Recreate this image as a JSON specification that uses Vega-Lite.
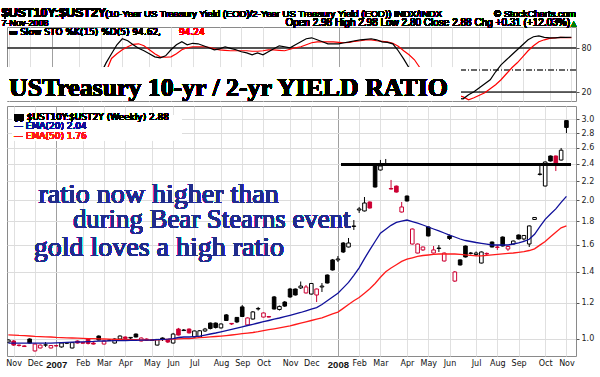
{
"$schema": "https://vega.github.io/schema/vega-lite/v6.json",
"background": "white",
"padding": {"left": 1, "top": 6, "right": 0, "bottom": 0},
"spacing": 5,
"bounds": "flush",
"config": {"view": {"stroke": "#8a8a8a", "strokeWidth": 1}, "font": "DejaVu Sans"},
"datasets": {"w": [
{"date":"2006-11-03","o":0.985,"h":0.998,"l":0.982,"c":0.995,"e20":0.98,"e50":1.021,"k":30,"d":32},
{"date":"2006-11-10","o":0.99,"h":0.995,"l":0.966,"c":0.97,"e20":0.98,"e50":1.02,"k":25,"d":30},
{"date":"2006-11-17","o":0.97,"h":0.973,"l":0.963,"c":0.968,"e20":0.98,"e50":1.018,"k":20,"d":25},
{"date":"2006-11-24","o":0.966,"h":0.968,"l":0.961,"c":0.963,"e20":0.98,"e50":1.017,"k":18,"d":22},
{"date":"2006-12-01","o":1.0,"h":1.003,"l":0.978,"c":0.98,"e20":0.98,"e50":1.015,"k":30,"d":23},
{"date":"2006-12-08","o":0.942,"h":0.978,"l":0.939,"c":0.975,"e20":0.98,"e50":1.013,"k":22,"d":25},
{"date":"2006-12-15","o":0.956,"h":0.973,"l":0.954,"c":0.97,"e20":0.98,"e50":1.012,"k":25,"d":26},
{"date":"2006-12-22","o":0.97,"h":0.985,"l":0.961,"c":0.971,"e20":0.98,"e50":1.011,"k":35,"d":28},
{"date":"2006-12-29","o":0.956,"h":0.97,"l":0.954,"c":0.968,"e20":0.98,"e50":1.01,"k":30,"d":30},
{"date":"2007-01-05","o":0.9675,"h":0.97,"l":0.963,"c":0.966,"e20":0.981,"e50":1.008,"k":28,"d":31},
{"date":"2007-01-12","o":0.961,"h":0.983,"l":0.958,"c":0.98,"e20":0.982,"e50":1.007,"k":40,"d":33},
{"date":"2007-01-19","o":0.979,"h":0.985,"l":0.975,"c":0.981,"e20":0.983,"e50":1.006,"k":42,"d":37},
{"date":"2007-01-26","o":0.956,"h":0.985,"l":0.954,"c":0.982,"e20":0.984,"e50":1.005,"k":45,"d":40},
{"date":"2007-02-02","o":0.99,"h":0.993,"l":0.978,"c":0.98,"e20":0.985,"e50":1.004,"k":38,"d":41},
{"date":"2007-02-09","o":0.983,"h":0.985,"l":0.978,"c":0.979,"e20":0.986,"e50":1.003,"k":35,"d":39},
{"date":"2007-02-16","o":1.0,"h":1.005,"l":0.973,"c":0.978,"e20":0.987,"e50":1.002,"k":30,"d":36},
{"date":"2007-02-23","o":0.98,"h":0.985,"l":0.973,"c":0.975,"e20":0.988,"e50":1.0015,"k":28,"d":33},
{"date":"2007-03-02","o":1.015,"h":1.018,"l":0.993,"c":0.995,"e20":0.9896,"e50":1.0005,"k":40,"d":35},
{"date":"2007-03-09","o":0.975,"h":0.993,"l":0.973,"c":0.99,"e20":0.99,"e50":1.0,"k":45,"d":40},
{"date":"2007-03-16","o":0.994,"h":0.998,"l":0.99,"c":0.995,"e20":0.9905,"e50":0.9995,"k":60,"d":48},
{"date":"2007-03-23","o":0.98,"h":1.003,"l":0.978,"c":1.0,"e20":0.9915,"e50":0.9985,"k":72.3,"d":66},
{"date":"2007-03-30","o":1.0,"h":1.018,"l":0.998,"c":1.015,"e20":0.992,"e50":0.998,"k":84.5,"d":72.3},
{"date":"2007-04-06","o":1.01,"h":1.013,"l":1.0,"c":1.003,"e20":0.9925,"e50":0.9975,"k":92.6,"d":77.7},
{"date":"2007-04-13","o":1.005,"h":1.01,"l":1.0,"c":1.008,"e20":0.993,"e50":0.997,"k":89.9,"d":81.8},
{"date":"2007-04-20","o":1.025,"h":1.028,"l":1.008,"c":1.01,"e20":0.9935,"e50":0.9965,"k":84.5,"d":85.1},
{"date":"2007-04-27","o":0.99,"h":1.008,"l":0.988,"c":1.005,"e20":0.994,"e50":0.996,"k":79.7,"d":85.8},
{"date":"2007-05-04","o":1.0,"h":1.003,"l":0.99,"c":0.993,"e20":0.9945,"e50":0.9955,"k":76.4,"d":83.1},
{"date":"2007-05-11","o":0.9925,"h":0.998,"l":0.99,"c":0.995,"e20":0.995,"e50":0.995,"k":72.3,"d":77.7},
{"date":"2007-05-18","o":0.97,"h":1.0,"l":0.968,"c":0.998,"e20":0.9965,"e50":0.996,"k":68.2,"d":72.3},
{"date":"2007-05-25","o":1.005,"h":1.008,"l":0.99,"c":1.0,"e20":0.998,"e50":0.997,"k":66.9,"d":68.2},
{"date":"2007-06-01","o":0.998,"h":1.0,"l":0.98,"c":0.985,"e20":0.999,"e50":0.9985,"k":69.6,"d":67.6},
{"date":"2007-06-08","o":0.98,"h":1.031,"l":0.978,"c":1.025,"e20":1.002,"e50":0.9995,"k":77.7,"d":68.2},
{"date":"2007-06-15","o":1.051,"h":1.057,"l":1.018,"c":1.02,"e20":1.0075,"e50":1.0005,"k":84.5,"d":72.3},
{"date":"2007-06-22","o":1.046,"h":1.051,"l":1.041,"c":1.043,"e20":1.01,"e50":1.0015,"k":88.5,"d":77.7},
{"date":"2007-06-29","o":1.051,"h":1.054,"l":1.028,"c":1.031,"e20":1.01,"e50":1.002,"k":84.5,"d":80.4},
{"date":"2007-07-06","o":1.01,"h":1.043,"l":1.008,"c":1.041,"e20":1.012,"e50":1.004,"k":86.5,"d":81.8},
{"date":"2007-07-13","o":1.01,"h":1.046,"l":1.008,"c":1.042,"e20":1.0146,"e50":1.007,"k":85.8,"d":81.8},
{"date":"2007-07-20","o":1.041,"h":1.057,"l":1.036,"c":1.051,"e20":1.0197,"e50":1.0085,"k":83.1,"d":81.8},
{"date":"2007-07-27","o":1.083,"h":1.086,"l":1.049,"c":1.054,"e20":1.0253,"e50":1.0106,"k":80.4,"d":81.1},
{"date":"2007-08-03","o":1.083,"h":1.086,"l":1.054,"c":1.059,"e20":1.0305,"e50":1.0126,"k":77.7,"d":79},
{"date":"2007-08-10","o":1.057,"h":1.081,"l":1.054,"c":1.078,"e20":1.0367,"e50":1.0146,"k":79,"d":77.7},
{"date":"2007-08-17","o":1.128,"h":1.133,"l":1.094,"c":1.097,"e20":1.0429,"e50":1.0171,"k":81.8,"d":77},
{"date":"2007-08-24","o":1.081,"h":1.083,"l":1.0725,"c":1.078,"e20":1.0497,"e50":1.0202,"k":79.7,"d":76.4},
{"date":"2007-08-31","o":1.114,"h":1.116,"l":1.083,"c":1.089,"e20":1.056,"e50":1.0238,"k":77.7,"d":76.4},
{"date":"2007-09-07","o":1.174,"h":1.185,"l":1.116,"c":1.119,"e20":1.0629,"e50":1.0269,"k":75,"d":76.4},
{"date":"2007-09-14","o":1.073,"h":1.114,"l":1.07,"c":1.111,"e20":1.0698,"e50":1.0299,"k":73.6,"d":76.4},
{"date":"2007-09-21","o":1.105,"h":1.15,"l":1.102,"c":1.145,"e20":1.0763,"e50":1.033,"k":70.9,"d":75.7},
{"date":"2007-09-28","o":1.162,"h":1.174,"l":1.153,"c":1.165,"e20":1.0833,"e50":1.0372,"k":73.6,"d":75.7},
{"date":"2007-10-05","o":1.116,"h":1.142,"l":1.114,"c":1.139,"e20":1.0904,"e50":1.0424,"k":70.9,"d":76.4},
{"date":"2007-10-12","o":1.119,"h":1.122,"l":1.114,"c":1.116,"e20":1.0969,"e50":1.0476,"k":75,"d":77.7},
{"date":"2007-10-19","o":1.234,"h":1.24,"l":1.159,"c":1.162,"e20":1.1041,"e50":1.0523,"k":79,"d":77.7},
{"date":"2007-10-26","o":1.159,"h":1.182,"l":1.153,"c":1.177,"e20":1.1107,"e50":1.0576,"k":83.1,"d":77},
{"date":"2007-11-02","o":1.203,"h":1.209,"l":1.174,"c":1.179,"e20":1.1186,"e50":1.0629,"k":81.8,"d":76.4},
{"date":"2007-11-09","o":1.284,"h":1.291,"l":1.228,"c":1.234,"e20":1.1259,"e50":1.0682,"k":80.4,"d":78.4},
{"date":"2007-11-16","o":1.284,"h":1.287,"l":1.243,"c":1.246,"e20":1.1337,"e50":1.0752,"k":84.5,"d":80.4},
{"date":"2007-11-23","o":1.291,"h":1.333,"l":1.284,"c":1.303,"e20":1.1417,"e50":1.0822,"k":88.5,"d":81.8},
{"date":"2007-11-30","o":1.259,"h":1.31,"l":1.255,"c":1.297,"e20":1.1515,"e50":1.0898,"k":92.6,"d":84.5},
{"date":"2007-12-07","o":1.252,"h":1.323,"l":1.249,"c":1.32,"e20":1.1608,"e50":1.0969,"k":93.9,"d":87.2},
{"date":"2007-12-14","o":1.246,"h":1.287,"l":1.203,"c":1.284,"e20":1.1701,"e50":1.1041,"k":91.2,"d":88.5},
{"date":"2007-12-21","o":1.297,"h":1.323,"l":1.265,"c":1.303,"e20":1.1879,"e50":1.1113,"k":88.5,"d":88.5},
{"date":"2007-12-28","o":1.377,"h":1.381,"l":1.32,"c":1.323,"e20":1.2107,"e50":1.1225,"k":85.8,"d":88.5},
{"date":"2008-01-04","o":1.485,"h":1.492,"l":1.408,"c":1.412,"e20":1.2337,"e50":1.1337,"k":85.8,"d":88.5},
{"date":"2008-01-11","o":1.485,"h":1.514,"l":1.47,"c":1.492,"e20":1.2572,"e50":1.144,"k":85.8,"d":87.8},
{"date":"2008-01-18","o":1.616,"h":1.624,"l":1.537,"c":1.545,"e20":1.2912,"e50":1.1654,"k":87.2,"d":87.2},
{"date":"2008-01-25","o":1.584,"h":1.657,"l":1.581,"c":1.616,"e20":1.327,"e50":1.1879,"k":88.5,"d":87.8},
{"date":"2008-02-01","o":1.755,"h":1.813,"l":1.725,"c":1.76,"e20":1.3748,"e50":1.2107,"k":89.9,"d":89.2},
{"date":"2008-02-08","o":1.906,"h":1.935,"l":1.878,"c":1.916,"e20":1.4271,"e50":1.2306,"k":91.2,"d":89.9},
{"date":"2008-02-15","o":1.897,"h":2.034,"l":1.892,"c":1.974,"e20":1.4949,"e50":1.2572,"k":91.9,"d":91.2},
{"date":"2008-02-22","o":1.984,"h":1.989,"l":1.92,"c":1.925,"e20":1.5619,"e50":1.2853,"k":92.6,"d":91.2},
{"date":"2008-02-29","o":2.387,"h":2.399,"l":2.133,"c":2.138,"e20":1.6283,"e50":1.3202,"k":91.2,"d":89.9},
{"date":"2008-03-07","o":2.328,"h":2.448,"l":2.322,"c":2.375,"e20":1.6978,"e50":1.3619,"k":88.5,"d":89.2},
{"date":"2008-03-14","o":2.387,"h":2.46,"l":2.375,"c":2.393,"e20":1.732,"e50":1.3997,"k":87.8,"d":88.5},
{"date":"2008-03-21","o":2.122,"h":2.215,"l":2.112,"c":2.117,"e20":1.7653,"e50":1.4266,"k":85.8,"d":86.5},
{"date":"2008-03-28","o":2.148,"h":2.154,"l":2.08,"c":2.085,"e20":1.7914,"e50":1.4497,"k":76.4,"d":82.4},
{"date":"2008-04-04","o":1.887,"h":1.984,"l":1.882,"c":1.935,"e20":1.8031,"e50":1.4738,"k":65.5,"d":76.4},
{"date":"2008-04-11","o":2.044,"h":2.049,"l":1.989,"c":1.994,"e20":1.813,"e50":1.4904,"k":53.4,"d":70.9},
{"date":"2008-04-18","o":1.608,"h":1.738,"l":1.604,"c":1.733,"e20":1.7986,"e50":1.5008,"k":45,"d":64.2},
{"date":"2008-04-25","o":1.537,"h":1.612,"l":1.534,"c":1.608,"e20":1.7843,"e50":1.5114,"k":30,"d":53.4},
{"date":"2008-05-02","o":1.561,"h":1.588,"l":1.553,"c":1.584,"e20":1.7683,"e50":1.5182,"k":22,"d":42},
{"date":"2008-05-09","o":1.751,"h":1.755,"l":1.67,"c":1.674,"e20":1.7507,"e50":1.522,"k":25,"d":33},
{"date":"2008-05-16","o":1.537,"h":1.592,"l":1.534,"c":1.561,"e20":1.7333,"e50":1.5266,"k":20,"d":25},
{"date":"2008-05-23","o":1.572,"h":1.6,"l":1.545,"c":1.576,"e20":1.717,"e50":1.5296,"k":18,"d":22},
{"date":"2008-05-30","o":1.477,"h":1.541,"l":1.473,"c":1.537,"e20":1.6989,"e50":1.5296,"k":15,"d":20},
{"date":"2008-06-06","o":1.674,"h":1.686,"l":1.641,"c":1.653,"e20":1.6812,"e50":1.5296,"k":22,"d":18},
{"date":"2008-06-13","o":1.336,"h":1.405,"l":1.33,"c":1.398,"e20":1.6653,"e50":1.5296,"k":12,"d":16},
{"date":"2008-06-20","o":1.485,"h":1.488,"l":1.444,"c":1.448,"e20":1.6487,"e50":1.5274,"k":11.5,"d":14},
{"date":"2008-06-27","o":1.592,"h":1.596,"l":1.503,"c":1.507,"e20":1.6364,"e50":1.5228,"k":17,"d":10.1},
{"date":"2008-07-04","o":1.534,"h":1.545,"l":1.526,"c":1.537,"e20":1.6283,"e50":1.5197,"k":21,"d":12.8},
{"date":"2008-07-11","o":1.526,"h":1.549,"l":1.514,"c":1.537,"e20":1.6202,"e50":1.5159,"k":26.4,"d":16.2},
{"date":"2008-07-18","o":1.462,"h":1.549,"l":1.459,"c":1.545,"e20":1.6137,"e50":1.5159,"k":31.8,"d":19.6},
{"date":"2008-07-25","o":1.534,"h":1.541,"l":1.514,"c":1.53,"e20":1.6065,"e50":1.5197,"k":37.2,"d":25},
{"date":"2008-08-01","o":1.624,"h":1.628,"l":1.581,"c":1.584,"e20":1.6,"e50":1.5235,"k":48,"d":30.4},
{"date":"2008-08-08","o":1.584,"h":1.6,"l":1.561,"c":1.581,"e20":1.6,"e50":1.5274,"k":57.4,"d":37.2},
{"date":"2008-08-15","o":1.665,"h":1.67,"l":1.588,"c":1.592,"e20":1.6,"e50":1.5304,"k":64.2,"d":45.3},
{"date":"2008-08-22","o":1.568,"h":1.592,"l":1.553,"c":1.588,"e20":1.6,"e50":1.5342,"k":71,"d":53.4},
{"date":"2008-08-29","o":1.608,"h":1.636,"l":1.604,"c":1.632,"e20":1.608,"e50":1.5373,"k":77.7,"d":60.1},
{"date":"2008-09-05","o":1.682,"h":1.686,"l":1.645,"c":1.649,"e20":1.6177,"e50":1.5419,"k":84.5,"d":68.2},
{"date":"2008-09-12","o":1.649,"h":1.682,"l":1.636,"c":1.678,"e20":1.6291,"e50":1.5473,"k":91.2,"d":76.4},
{"date":"2008-09-19","o":1.608,"h":1.764,"l":1.584,"c":1.76,"e20":1.6463,"e50":1.5566,"k":95.3,"d":83.1},
{"date":"2008-09-26","o":1.818,"h":1.84,"l":1.813,"c":1.836,"e20":1.688,"e50":1.5692,"k":96.6,"d":88.5},
{"date":"2008-10-03","o":2.276,"h":2.411,"l":2.265,"c":2.282,"e20":1.7542,"e50":1.5989,"k":94.6,"d":91.2},
{"date":"2008-10-10","o":2.149,"h":2.429,"l":2.144,"c":2.423,"e20":1.8184,"e50":1.6283,"k":93.9,"d":93.2},
{"date":"2008-10-17","o":2.497,"h":2.503,"l":2.429,"c":2.435,"e20":1.8689,"e50":1.6681,"k":93.9,"d":93.9},
{"date":"2008-10-24","o":2.497,"h":2.503,"l":2.316,"c":2.387,"e20":1.9163,"e50":1.7063,"k":94.6,"d":94.6},
{"date":"2008-10-31","o":2.447,"h":2.599,"l":2.441,"c":2.57,"e20":1.9802,"e50":1.7431,"k":94.6,"d":94.2},
{"date":"2008-11-07","o":2.98,"h":2.98,"l":2.8,"c":2.88,"e20":2.04,"e50":1.76,"k":94.62,"d":94.24}
]},
"vconcat": [
{
"width": 569, "height": 74,
"data": {"name": "w"},
"layer": [
{"mark": {"type": "rule", "color": "#555555", "strokeWidth": 1},
 "encoding": {"y": {"datum": 80, "type": "quantitative", "scale": {"domain": [8.5, 108.5], "nice": false, "zero": false},
   "axis": {"orient": "right", "values": [20, 50, 80], "grid": false, "domain": false, "tickSize": 3, "tickColor": "#555", "labelFont": "DejaVu Sans", "labelFontSize": 8, "labelColor": "#222", "labelPadding": 2, "title": null}}}},
{"mark": {"type": "rule", "color": "#555555", "strokeWidth": 1}, "encoding": {"y": {"datum": 20, "type": "quantitative"}}},
{"mark": {"type": "rule", "color": "#666666", "strokeWidth": 1, "strokeDash": [6, 2, 1, 2]}, "encoding": {"y": {"datum": 50, "type": "quantitative"}}},
{"mark": {"type": "line", "color": "#ff0000", "strokeWidth": 1.2, "clip": true},
 "encoding": {
  "x": {"field": "date", "type": "temporal",
    "scale": {"type": "utc", "domain": [{"year": 2006, "month": 11, "date": 7, "hours": 19, "utc": true}, {"year": 2008, "month": 11, "date": 13, "utc": true}]},
    "axis": {"orient": "bottom", "labels": false, "ticks": false, "domain": false, "grid": true, "title": null, "tickCount": 40,
      "gridColor": {"condition": {"test": "utcmonth(datum.value) == 0", "value": "#a0a0a0"}, "value": "#e0e0e0"},
      "values": [
       {"year":2006,"month":11,"date":10,"utc":true},{"year":2006,"month":12,"date":8,"utc":true},
       {"year":2007,"month":1,"date":5,"utc":true},{"year":2007,"month":2,"date":9,"utc":true},{"year":2007,"month":3,"date":9,"utc":true},{"year":2007,"month":4,"date":6,"utc":true},{"year":2007,"month":5,"date":11,"utc":true},{"year":2007,"month":6,"date":8,"utc":true},{"year":2007,"month":7,"date":6,"utc":true},{"year":2007,"month":8,"date":10,"utc":true},{"year":2007,"month":9,"date":7,"utc":true},{"year":2007,"month":10,"date":5,"utc":true},{"year":2007,"month":11,"date":9,"utc":true},{"year":2007,"month":12,"date":7,"utc":true},
       {"year":2008,"month":1,"date":11,"utc":true},{"year":2008,"month":2,"date":8,"utc":true},{"year":2008,"month":3,"date":7,"utc":true},{"year":2008,"month":4,"date":11,"utc":true},{"year":2008,"month":5,"date":9,"utc":true},{"year":2008,"month":6,"date":6,"utc":true},{"year":2008,"month":7,"date":11,"utc":true},{"year":2008,"month":8,"date":8,"utc":true},{"year":2008,"month":9,"date":5,"utc":true},{"year":2008,"month":10,"date":10,"utc":true},{"year":2008,"month":11,"date":7,"utc":true}]}},
  "y": {"field": "d", "type": "quantitative"}}},
{"mark": {"type": "line", "color": "#000000", "strokeWidth": 1.2, "clip": true},
 "encoding": {"x": {"field": "date", "type": "temporal"}, "y": {"field": "k", "type": "quantitative"}}},
{"mark": {"type": "rect", "fill": "white"},
 "encoding": {"x": {"datum": {"year": 2006, "month": 11, "date": 7, "hours": 19, "utc": true}, "type": "temporal"},
   "x2": {"datum": {"year": 2008, "month": 6, "date": 17, "utc": true}},
   "y": {"datum": 8.5, "type": "quantitative"}, "y2": {"datum": 53.5}}},
{"mark": {"type": "text", "text": "USTreasury 10-yr / 2-yr YIELD RATIO", "font": "Liberation Serif", "fontSize": 25.8, "fontWeight": "bold", "align": "left", "baseline": "alphabetic", "color": "#000"},
 "encoding": {"x": {"datum": {"year": 2006, "month": 11, "date": 10, "hours": 9, "utc": true}, "type": "temporal"}, "y": {"datum": 15.7, "type": "quantitative"}}},
{"mark": {"type": "text", "text": "▬ Slow STO %K(15) %D(5) 94.62,", "font": "DejaVu Sans", "fontSize": 9, "align": "left", "baseline": "alphabetic", "color": "#000"},
 "encoding": {"x": {"datum": {"year": 2006, "month": 11, "date": 10, "hours": 9, "utc": true}, "type": "temporal"}, "y": {"datum": 97.5, "type": "quantitative"}}},
{"mark": {"type": "text", "text": "94.24", "font": "DejaVu Sans", "fontSize": 9, "align": "left", "baseline": "alphabetic", "color": "#ff0000"},
 "encoding": {"x": {"datum": {"year": 2007, "month": 6, "date": 18, "hours": 9, "utc": true}, "type": "temporal"}, "y": {"datum": 97.5, "type": "quantitative"}}},
{"mark": {"type": "text", "text": "$UST10Y:$UST2Y", "font": "Liberation Sans", "fontSize": 12.5, "fontWeight": "bold", "align": "left", "baseline": "alphabetic", "color": "#000"},
 "encoding": {"x": {"datum": {"year": 2006, "month": 10, "date": 31, "hours": 17, "utc": true}, "type": "temporal"}, "y": {"datum": 122.5, "type": "quantitative"}}},
{"mark": {"type": "text", "text": "(10-Year US Treasury Yield (EOD)/2-Year US Treasury Yield (EOD))  INDX/INDX", "font": "Liberation Sans", "fontSize": 9.5, "align": "left", "baseline": "alphabetic", "color": "#000"},
 "encoding": {"x": {"datum": {"year": 2007, "month": 3, "date": 15, "utc": true}, "type": "temporal"}, "y": {"datum": 122.5, "type": "quantitative"}}},
{"mark": {"type": "text", "text": "© StockCharts.com", "font": "Liberation Sans", "fontSize": 9.5, "align": "right", "baseline": "alphabetic", "color": "#000"},
 "encoding": {"x": {"datum": {"year": 2008, "month": 11, "date": 13, "utc": true}, "type": "temporal"}, "y": {"datum": 122.5, "type": "quantitative"}}},
{"mark": {"type": "text", "text": "7-Nov-2008", "font": "Liberation Sans", "fontSize": 9, "align": "left", "baseline": "alphabetic", "color": "#000"},
 "encoding": {"x": {"datum": {"year": 2006, "month": 10, "date": 31, "hours": 17, "utc": true}, "type": "temporal"}, "y": {"datum": 110.5, "type": "quantitative"}}},
{"mark": {"type": "text", "text": "Open 2.98  High 2.98  Low 2.80  Close 2.88  Chg +0.31 (+12.03%)", "font": "Liberation Sans", "fontSize": 10, "align": "right", "baseline": "alphabetic", "color": "#000"},
 "encoding": {"x": {"datum": {"year": 2008, "month": 11, "date": 5, "hours": 7, "utc": true}, "type": "temporal"}, "y": {"datum": 110.5, "type": "quantitative"}}},
{"mark": {"type": "text", "text": "▲", "font": "DejaVu Sans", "fontSize": 7, "align": "left", "baseline": "alphabetic", "color": "#008000"},
 "encoding": {"x": {"datum": {"year": 2008, "month": 11, "date": 6, "hours": 14, "utc": true}, "type": "temporal"}, "y": {"datum": 110.5, "type": "quantitative"}}}
]
},
{
"width": 569, "height": 250,
"data": {"name": "w"},
"transform": [
 {"window": [{"op": "lag", "field": "c", "as": "pc"}], "sort": [{"field": "date", "order": "ascending"}]},
 {"calculate": "datum.pc == null || datum.c >= datum.pc ? 'up' : 'down'", "as": "dir"},
 {"calculate": "datum.c < datum.o ? datum.dir : 'hollow'", "as": "fk"}
],
"layer": [
{"mark": {"type": "rule", "strokeWidth": 1, "clip": true},
 "encoding": {
  "x": {"field": "date", "type": "temporal",
    "scale": {"type": "utc", "domain": [{"year": 2006, "month": 11, "date": 7, "hours": 19, "utc": true}, {"year": 2008, "month": 11, "date": 13, "utc": true}]},
    "axis": {"orient": "bottom", "ticks": false, "domain": false, "grid": true, "title": null, "labelPadding": 3, "tickCount": 40, "labelOverlap": false, "labelBound": false, "labelFlush": false,
      "labelColor": "#111",
      "labelExpr": "utcmonth(datum.value) == 0 ? utcFormat(datum.value, '%Y') : utcFormat(datum.value, '%b')",
      "labelFont": {"condition": {"test": "utcmonth(datum.value) == 0", "value": "Liberation Sans"}, "value": "DejaVu Sans"},
      "labelFontSize": {"condition": {"test": "utcmonth(datum.value) == 0", "value": 9.5}, "value": 8},
      "labelFontWeight": {"condition": {"test": "utcmonth(datum.value) == 0", "value": "bold"}, "value": "normal"},
      "gridColor": {"condition": {"test": "utcmonth(datum.value) == 0", "value": "#a0a0a0"}, "value": "#e0e0e0"},
      "values": [
       {"year":2006,"month":11,"date":10,"utc":true},{"year":2006,"month":12,"date":8,"utc":true},
       {"year":2007,"month":1,"date":5,"utc":true},{"year":2007,"month":2,"date":9,"utc":true},{"year":2007,"month":3,"date":9,"utc":true},{"year":2007,"month":4,"date":6,"utc":true},{"year":2007,"month":5,"date":11,"utc":true},{"year":2007,"month":6,"date":8,"utc":true},{"year":2007,"month":7,"date":6,"utc":true},{"year":2007,"month":8,"date":10,"utc":true},{"year":2007,"month":9,"date":7,"utc":true},{"year":2007,"month":10,"date":5,"utc":true},{"year":2007,"month":11,"date":9,"utc":true},{"year":2007,"month":12,"date":7,"utc":true},
       {"year":2008,"month":1,"date":11,"utc":true},{"year":2008,"month":2,"date":8,"utc":true},{"year":2008,"month":3,"date":7,"utc":true},{"year":2008,"month":4,"date":11,"utc":true},{"year":2008,"month":5,"date":9,"utc":true},{"year":2008,"month":6,"date":6,"utc":true},{"year":2008,"month":7,"date":11,"utc":true},{"year":2008,"month":8,"date":8,"utc":true},{"year":2008,"month":9,"date":5,"utc":true},{"year":2008,"month":10,"date":10,"utc":true},{"year":2008,"month":11,"date":7,"utc":true}]}},
  "y": {"field": "l", "type": "quantitative",
    "scale": {"type": "log", "domain": [0.9185, 3.206], "nice": false, "zero": false},
    "axis": {"orient": "right", "values": [1.0, 1.2, 1.4, 1.6, 1.8, 2.0, 2.2, 2.4, 2.6, 2.8, 3.0], "format": ".1f", "grid": true, "gridColor": "#dcdcdc", "domain": false, "tickSize": 3, "tickColor": "#555", "labelFont": "DejaVu Sans", "labelFontSize": 8, "labelColor": "#222", "labelPadding": 2, "title": null}},
  "y2": {"field": "h"},
  "color": {"field": "dir", "type": "nominal", "scale": {"domain": ["up", "down"], "range": ["#000000", "#cc0033"]}, "legend": null}}},
{"mark": {"type": "bar", "width": 3.6, "strokeWidth": 1, "clip": true},
 "encoding": {
  "x": {"field": "date", "type": "temporal"},
  "y": {"field": "o", "type": "quantitative"},
  "y2": {"field": "c"},
  "stroke": {"field": "dir", "type": "nominal", "scale": {"domain": ["up", "down"], "range": ["#000000", "#cc0033"]}, "legend": null},
  "fill": {"field": "fk", "type": "nominal", "scale": {"domain": ["up", "down", "hollow"], "range": ["#000000", "#cc0033", "#ffffff"]}, "legend": null}}},
{"mark": {"type": "line", "color": "#ff1a1a", "strokeWidth": 1.3, "clip": true},
 "encoding": {"x": {"field": "date", "type": "temporal"}, "y": {"field": "e50", "type": "quantitative"}}},
{"mark": {"type": "line", "color": "#10109a", "strokeWidth": 1.3, "clip": true},
 "encoding": {"x": {"field": "date", "type": "temporal"}, "y": {"field": "e20", "type": "quantitative"}}},
{"mark": {"type": "rule", "color": "#000", "strokeWidth": 2},
 "encoding": {"x": {"datum": {"year": 2008, "month": 1, "date": 15, "hours": 7, "utc": true}, "type": "temporal"},
   "x2": {"datum": {"year": 2008, "month": 11, "date": 13, "utc": true}},
   "y": {"datum": 2.39, "type": "quantitative"}}},
{"mark": {"type": "rect", "fill": "white"},
 "encoding": {"x": {"datum": {"year": 2006, "month": 11, "date": 7, "hours": 19, "utc": true}, "type": "temporal"},
   "x2": {"datum": {"year": 2007, "month": 6, "date": 19, "hours": 14, "utc": true}},
   "y": {"datum": 2.70, "type": "quantitative"}, "y2": {"datum": 3.06}}},
{"mark": {"type": "text", "text": "ratio now higher than", "font": "Liberation Serif", "fontSize": 28, "align": "left", "baseline": "alphabetic", "color": "#202c8c"},
 "encoding": {"x": {"datum": {"year": 2006, "month": 12, "date": 12, "hours": 17, "utc": true}, "type": "temporal"}, "y": {"datum": 1.974, "type": "quantitative"}}},
{"mark": {"type": "text", "text": "during Bear Stearns event", "font": "Liberation Serif", "fontSize": 26.8, "align": "left", "baseline": "alphabetic", "color": "#202c8c"},
 "encoding": {"x": {"datum": {"year": 2007, "month": 1, "date": 27, "utc": true}, "type": "temporal"}, "y": {"datum": 1.742, "type": "quantitative"}}},
{"mark": {"type": "text", "text": "gold loves a high ratio", "font": "Liberation Serif", "fontSize": 28, "align": "left", "baseline": "alphabetic", "color": "#202c8c"},
 "encoding": {"x": {"datum": {"year": 2006, "month": 12, "date": 6, "hours": 7, "utc": true}, "type": "temporal"}, "y": {"datum": 1.514, "type": "quantitative"}}},
{"mark": {"type": "text", "text": "▮▮ $UST10Y:$UST2Y (Weekly) 2.88", "font": "DejaVu Sans", "fontSize": 9, "align": "left", "baseline": "alphabetic", "color": "#000"},
 "encoding": {"x": {"datum": {"year": 2006, "month": 11, "date": 10, "hours": 9, "utc": true}, "type": "temporal"}, "y": {"datum": 2.982, "type": "quantitative"}}},
{"mark": {"type": "text", "text": "— EMA(20) 2.04", "font": "DejaVu Sans", "fontSize": 9, "align": "left", "baseline": "alphabetic", "color": "#10109a"},
 "encoding": {"x": {"datum": {"year": 2006, "month": 11, "date": 10, "hours": 9, "utc": true}, "type": "temporal"}, "y": {"datum": 2.851, "type": "quantitative"}}},
{"mark": {"type": "text", "text": "— EMA(50) 1.76", "font": "DejaVu Sans", "fontSize": 9, "align": "left", "baseline": "alphabetic", "color": "#ff1a1a"},
 "encoding": {"x": {"datum": {"year": 2006, "month": 11, "date": 10, "hours": 9, "utc": true}, "type": "temporal"}, "y": {"datum": 2.725, "type": "quantitative"}}}
]
}
]
}
